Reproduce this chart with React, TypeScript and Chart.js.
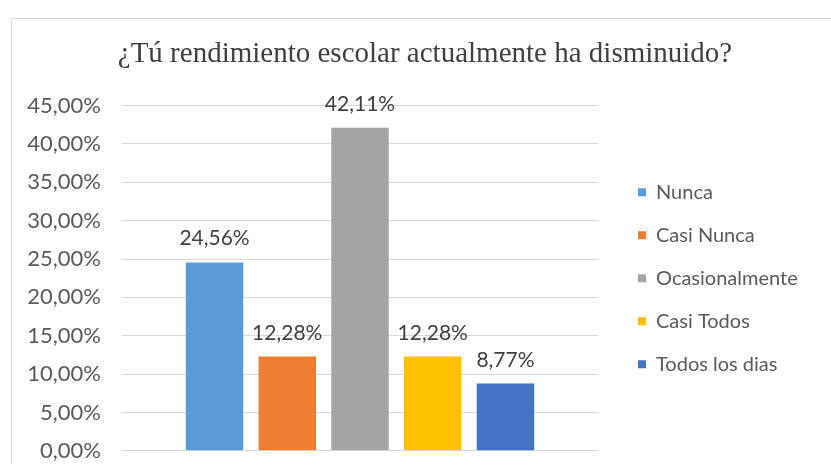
import React, { useEffect, useRef } from 'react';
import { Chart, registerables } from 'chart.js';

Chart.register(...registerables);

const chartTitle = '¿Tú rendimiento escolar actualmente ha disminuido?';
const categories = ['Nunca', 'Casi Nunca', 'Ocasionalmente', 'Casi Todos', 'Todos los dias'];
const values = [24.56, 12.28, 42.11, 12.28, 8.77];
const colors = ['#5B9BD5', '#ED7D31', '#A5A5A5', '#FFC000', '#4472C4'];
const yMin = 0;
const yMax = 45;
const yStep = 5;

const fmt = (v: number) => v.toFixed(2).replace('.', ',') + '%';

const FONT = "Lato, 'Noto Sans', sans-serif";
const CANVAS_W = 826;
const CANVAS_H = 445;
const PLOT_RIGHT = 586;
const LEGEND_FONT = 20;
const LEGEND_PAD = 23;
const LEGEND_BOX = 8;
const LEGEND_BOX_X = 626;

const valueLabels = {
  id: 'valueLabels',
  afterDatasetsDraw(chart: any) {
    const ctx = chart.ctx;
    ctx.save();
    ctx.font = `21px ${FONT}`;
    ctx.fillStyle = '#404040';
    ctx.textAlign = 'center';
    ctx.textBaseline = 'alphabetic';
    chart.data.datasets.forEach((ds: any, i: number) => {
      const meta = chart.getDatasetMeta(i);
      meta.data.forEach((bar: any, j: number) => {
        ctx.fillText(fmt(ds.data[j]), bar.x, bar.y - 17);
      });
    });
    ctx.restore();
  },
};

// centre the title on the whole chart box and leave a gap before the legend
const layoutTweak = {
  id: 'layoutTweak',
  afterLayout(chart: any) {
    const t = chart.titleBlock;
    if (t) {
      t.left = 0;
      t.right = chart.width;
      t.width = chart.width;
    }
    const l = chart.legend;
    if (l) {
      const shift = LEGEND_BOX_X - (l.left + LEGEND_PAD);
      l.left += shift;
      l.right += shift;
    }
  },
};

export default function App() {
  const ref = useRef<HTMLCanvasElement>(null);
  useEffect(() => {
    if (!ref.current) return;
    // legend width as Chart.js computes it, so the plot ends where the gridlines end
    const mctx = document.createElement('canvas').getContext('2d')!;
    mctx.font = `${LEGEND_FONT}px ${FONT}`;
    const maxText = Math.max(...categories.map((c) => mctx.measureText(c).width));
    const legendW = 10 + LEGEND_PAD + LEGEND_BOX + LEGEND_FONT / 2 + maxText;
    const padRight = Math.max(0, CANVAS_W - PLOT_RIGHT - legendW);

    const chart = new Chart(ref.current, {
      type: 'bar',
      data: {
        labels: [''],
        datasets: categories.map((c, i) => ({
          label: c,
          data: [values[i]],
          backgroundColor: colors[i],
          borderWidth: 0,
          barPercentage: 0.79,
          categoryPercentage: 0.764,
        })),
      },
      options: {
        animation: false,
        responsive: true,
        maintainAspectRatio: false,
        layout: { padding: { left: 0, right: padRight, top: 0, bottom: 13 } },
        plugins: {
          title: {
            display: true,
            text: chartTitle,
            color: '#404040',
            font: { family: "'Liberation Serif', 'DejaVu Serif', serif", size: 29, weight: 'normal' },
            padding: { top: 18.4, bottom: 33.4 },
          },
          legend: {
            position: 'right',
            fullSize: false,
            labels: {
              boxWidth: LEGEND_BOX,
              boxHeight: LEGEND_BOX,
              padding: LEGEND_PAD,
              color: '#595959',
              font: { family: FONT, size: LEGEND_FONT },
            },
          },
          tooltip: { enabled: false },
        },
        scales: {
          x: { display: false },
          y: {
            min: yMin,
            max: yMax,
            border: { display: false },
            grid: {
              color: '#d9d9d9',
              lineWidth: 1,
              drawTicks: true,
              tickLength: 21,
              tickColor: 'rgba(0,0,0,0)',
            },
            ticks: {
              stepSize: yStep,
              padding: 0,
              color: '#595959',
              font: { family: FONT, size: 22 },
              callback: (v: any) => fmt(Number(v)),
            },
            afterFit: (s: any) => { s.width = 110; },
          },
        },
      },
      plugins: [valueLabels, layoutTweak],
    } as any);
    return () => chart.destroy();
  }, []);

  return (
    <div
      style={{
        position: 'absolute',
        left: 11,
        top: 18,
        width: 819,
        height: CANVAS_H,
        borderLeft: '1px solid #d9d9d9',
        borderTop: '1px solid #d9d9d9',
        background: '#fff',
        overflow: 'hidden',
      }}
    >
      <div style={{ position: 'relative', width: CANVAS_W, height: CANVAS_H }}>
        <canvas ref={ref} />
      </div>
    </div>
  );
}
